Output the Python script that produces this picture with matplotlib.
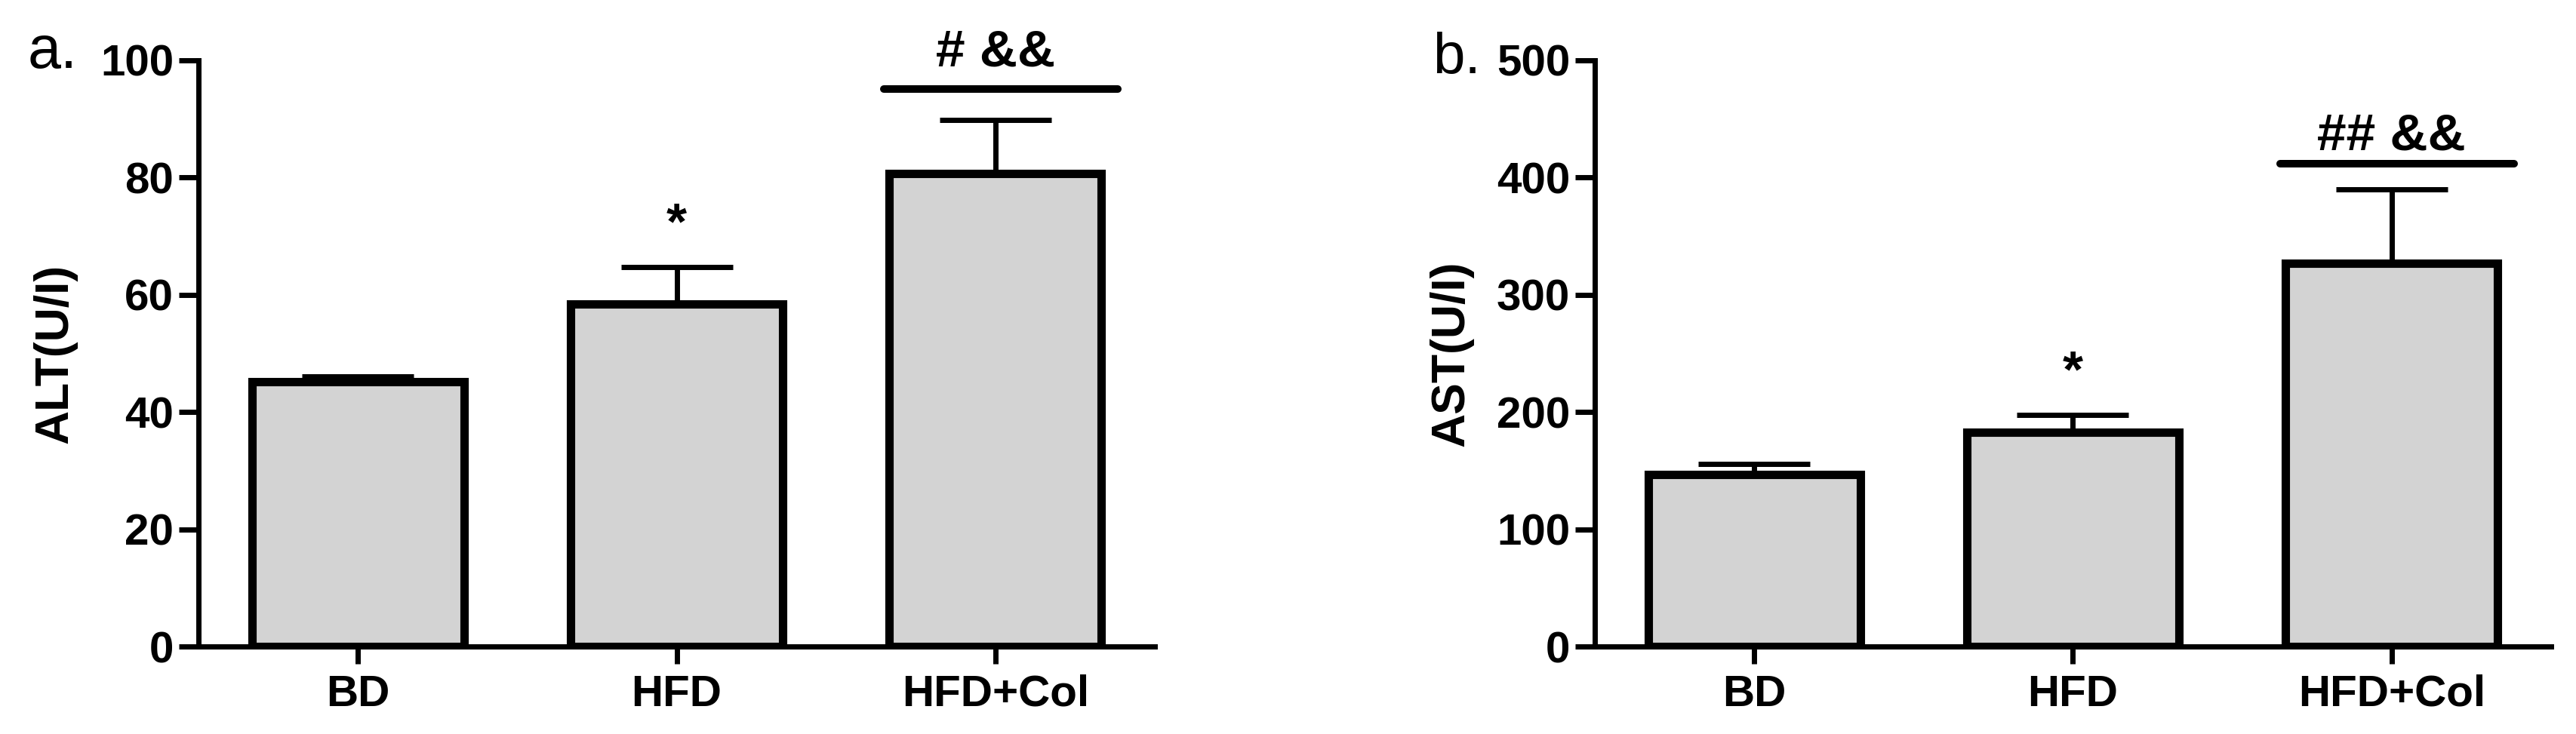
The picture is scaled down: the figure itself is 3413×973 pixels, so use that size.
import matplotlib.pyplot as plt
import numpy as np

plt.rcParams['font.family'] = ['Liberation Sans', 'DejaVu Sans']

groups = ['BD', 'HFD', 'HFD+Col']

alt_mean = [45.2, 58.4, 80.7]
alt_err = [0.9, 6.3, 9.1]
ast_mean = [146.8, 182.6, 327.0]
ast_err = [8.8, 14.9, 62.7]

# star marks above HFD (baseline), bracket text above HFD+Col
alt_star_y = 69.6
ast_star_y = 222.0
alt_sig_text = '# &&'
ast_sig_text = '## &&'
alt_sig_line_y = 95.1
ast_sig_line_y = 411.6
alt_sig_text_y = 99.0
ast_sig_text_y = 424.0


def draw_panel(ax, means, errs, ymax, ystep, ylabel, star_y, sig_text, line_y, text_y):
    x = np.arange(len(groups))
    width = 0.665
    ax.errorbar(x, means, yerr=[np.zeros(len(means)), errs], fmt='none',
                ecolor='black', elinewidth=5, capsize=53, capthick=5, zorder=2)
    ax.bar(x, means, width=width, color='#d3d3d3', edgecolor='black',
           linewidth=8, zorder=3)

    ax.set_xlim(-0.5, 2.5)
    ax.set_ylim(0, ymax)
    ax.set_yticks(np.arange(0, ymax + 1, ystep))
    ax.set_xticks(x)
    ax.set_xticklabels(groups)

    for s in ['top', 'right']:
        ax.spines[s].set_visible(False)
    for s in ['left', 'bottom']:
        ax.spines[s].set_linewidth(5)
    ax.tick_params(axis='y', length=18.7, width=5, pad=5, labelsize=42)
    ax.tick_params(axis='x', length=16.5, width=5, pad=10, labelsize=42)
    for lab in ax.get_xticklabels() + ax.get_yticklabels():
        lab.set_fontweight('bold')
    ax.set_ylabel(ylabel, fontsize=45, fontweight='bold', labelpad=22)

    ax.text(x[1], star_y, '*', ha='center', va='baseline', fontsize=50,
            fontweight='bold', clip_on=False)
    ax.plot([x[2] - 0.35, x[2] + 0.385], [line_y, line_y], color='black',
            lw=7.2, solid_capstyle='round', clip_on=False)
    ax.text(x[2], text_y, sig_text, ha='center', va='baseline', fontsize=50,
            fontweight='bold', clip_on=False)


fig = plt.figure(figsize=(34.13, 9.73), dpi=100)
ax1 = fig.add_axes([0.0771, 0.1192, 0.3712, 0.7986])
ax2 = fig.add_axes([0.6191, 0.1192, 0.3712, 0.7986])

draw_panel(ax1, alt_mean, alt_err, 100, 20, 'ALT(U/I)',
           alt_star_y, alt_sig_text, alt_sig_line_y, alt_sig_text_y)
draw_panel(ax2, ast_mean, ast_err, 500, 100, 'AST(U/I)',
           ast_star_y, ast_sig_text, ast_sig_line_y, ast_sig_text_y)

fig.text(37 / 3413, 1 - 90 / 973, 'a.', fontsize=57, va='baseline', ha='left')
fig.text(1898 / 3413, 1 - 97 / 973, 'b.', fontsize=55, va='baseline', ha='left')

fig.savefig('out.png', dpi=100)
